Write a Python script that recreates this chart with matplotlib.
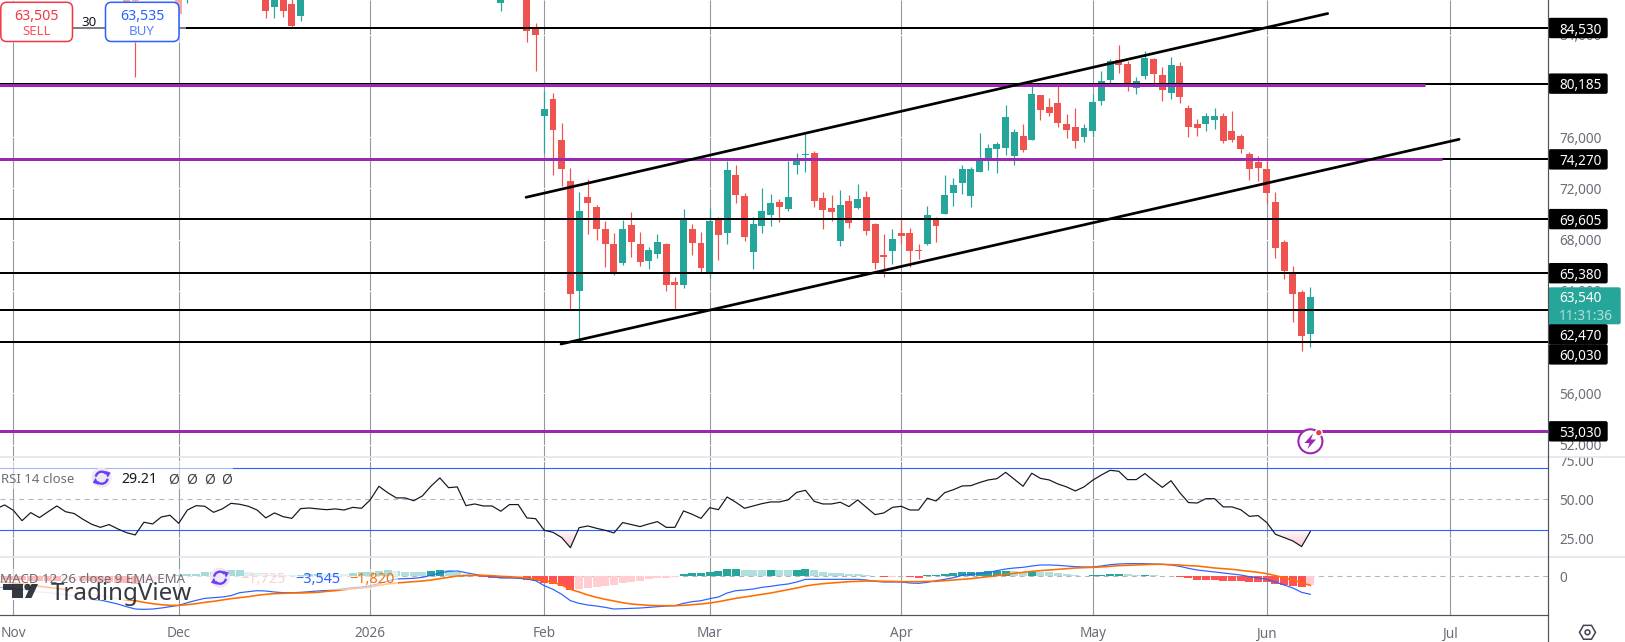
import numpy as np
import matplotlib
matplotlib.use("Agg")
import matplotlib.pyplot as plt
from matplotlib.patches import FancyBboxPatch, Circle, Rectangle, Polygon, Arc, RegularPolygon, PathPatch
from matplotlib.path import Path

plt.rcParams['font.family'] = ['Noto Sans', 'DejaVu Sans']

W, H = 1625, 642

# ---- price candles; bar 0 is the first session of February ----
bar_index = [-48, -47, -42, -41, -32, -31, -30, -29, -28, -5, -2, -1] + list(range(0, 89))
bar_open = [88000, 88000, 88500, 87500, 87500, 86195, 87500, 86406, 85468, 86510, 87000, 84530,
    77652, 78981, 75776, 72572, 63976, 71322, 70540, 68821, 67649, 66164, 69134, 67649, 66320, 66867, 67649,
    64679, 64445, 68821, 67727, 65409, 69603, 68509, 73041, 71400, 67024, 69056, 69915, 70931, 70384, 73823,
    74604, 74761, 71244, 70462, 67883, 71009, 70462, 71322, 69212, 66789, 67103, 68510, 68510, 67181, 67650,
    69708, 69994, 71636, 72417, 71401, 73277, 74371, 75074, 75152, 74527, 76090, 75777, 79294, 78356, 78669,
    77028, 76793, 76012, 76481, 78825, 80466, 82029, 81717, 79841, 80779, 82108, 80857, 79451, 81561, 78278,
    77028, 77028, 77340, 77653, 76481, 76090, 74683, 74058, 73511, 70932, 67806, 65357, 63899, 60616]
bar_high = [88500, 88500, 89000, 89000, 88000, 88100, 88000, 86900, 88000, 88200, 87600, 84897,
    79630, 79450, 77105, 73588, 71713, 72729, 70697, 69446, 68509, 69524, 70150, 68587, 67414, 68430, 67727,
    65070, 70384, 69212, 68587, 70462, 69759, 74135, 73823, 71635, 69759, 72025, 71556, 71166, 74135, 74761,
    76245, 74917, 71713, 71478, 71869, 71478, 72338, 71791, 69290, 68430, 68822, 69525, 68900, 67650, 70620,
    69760, 73042, 72808, 73824, 73667, 76325, 75465, 75621, 78513, 76637, 77028, 79998, 79294, 79060, 79998,
    77809, 78278, 77028, 79372, 81170, 82108, 83202, 81951, 80701, 82733, 82186, 81482, 82264, 81873, 78513,
    77419, 77888, 78278, 77888, 78044, 76246, 74840, 74527, 74136, 71714, 67962, 65931, 64055, 64289]
bar_low = [86300, 80724, 85500, 86510, 85335, 85335, 85413, 84608, 85100, 85859, 83436, 81169,
    74734, 73041, 72182, 62569, 60277, 68430, 67961, 65851, 65226, 66008, 66633, 65930, 65695, 66555, 63976,
    62569, 64210, 66789, 65383, 64992, 66398, 67649, 70853, 67883, 65695, 68509, 69056, 69368, 70228, 73119,
    73276, 70540, 68821, 69446, 67493, 68899, 70384, 68352, 65695, 65070, 66087, 67728, 65852, 66478, 67572,
    67806, 69994, 70620, 71557, 70541, 73277, 73433, 73199, 74605, 73824, 74840, 75777, 77340, 77653, 76793,
    75934, 75152, 75621, 76012, 78513, 80154, 81014, 79607, 79372, 80545, 80154, 78825, 78982, 78669, 76012,
    76090, 76481, 76637, 75543, 75621, 74762, 72651, 72573, 70776, 66556, 64915, 61554, 59288, 59600]
bar_close = [86570, 86620, 85624, 88800, 85859, 87800, 85859, 84686, 87700, 87800, 84319, 84006,
    78199, 76558, 73510, 63741, 70228, 70853, 68821, 67649, 65409, 68821, 67805, 66242, 67180, 67805, 64445,
    64445, 69603, 67727, 65773, 69446, 68352, 73432, 71478, 68196, 69212, 70228, 70853, 70540, 71322, 74187,
    74682, 71009, 70306, 70150, 70697, 69290, 71166, 68665, 66164, 66633, 68041, 68275, 67103, 67103, 69916,
    69057, 71479, 72261, 73511, 73511, 74136, 75152, 75465, 77575, 76403, 74996, 79372, 78122, 77888, 77106,
    76559, 75699, 76715, 78747, 80388, 81951, 81639, 80154, 80388, 82186, 80935, 79685, 81639, 79138, 76793,
    76715, 77653, 77653, 75699, 75777, 75074, 73511, 73589, 71636, 67337, 65540, 63742, 60460, 63540]

# ---- horizontal levels and channel lines ----
black_levels = [84530, 80185, 74270, 69605, 65380, 62470, 60030]
purple_levels = [80070, 74270, 53030]
purple_ends = [101.2, 103.1, 116]
channel_upper_bars = [-2.1, 90.0]
channel_upper_prices = [71308, 85662]
channel_lower_bars = [1.92, 105.1]
channel_lower_prices = [59850, 75838]

# ---- indicator series, one value per session from bar -63 ----
indicator_bars = list(range(-63, 89))
rsi_values = [43.8, 46.35, 42.9, 36.2, 41.4, 38.2, 42.0, 45.7, 42.0, 40.8, 37.1, 33.9, 31.9, 33.7, 30.9, 28.5, 27.0,
    35.2, 34.1, 38.6, 39.7, 34.5, 43.1, 45.9, 45.5, 41.6, 43.8, 47.4, 46.8, 45.5, 43.1, 38.0, 41.2, 38.8, 37.7,
    44.0, 44.4, 43.8, 43.3, 43.8, 43.1, 44.8, 44.2, 49.6, 58.4, 54.3, 50.9, 50.9, 49.1, 52.2, 58.6, 63.8, 57.5,
    58.0, 45.9, 47.0, 45.7, 45.7, 42.3, 46.6, 46.6, 38.0, 37.5, 30.0, 28.7, 25.3, 18.8, 31.7, 32.8, 31.3, 30.0,
    28.3, 35.0, 33.7, 32.4, 34.1, 35.6, 31.9, 31.9, 42.5, 40.3, 37.7, 44.6, 43.3, 51.5, 48.1, 44.2, 45.7, 47.2,
    48.3, 48.3, 49.6, 54.5, 55.8, 48.7, 47.0, 47.0, 48.1, 45.3, 49.6, 44.8, 40.1, 41.2, 44.8, 45.5, 43.1, 43.1,
    50.7, 48.9, 54.3, 56.2, 58.6, 58.8, 60.8, 62.5, 63.3, 67.4, 62.9, 58.4, 66.8, 63.5, 62.5, 59.9, 58.0, 55.4,
    58.0, 62.3, 65.7, 68.7, 68.1, 62.7, 62.7, 66.6, 62.0, 57.7, 62.0, 54.3, 47.9, 47.6, 50.4, 50.4, 45.1, 45.1,
    43.3, 39.0, 39.5, 35.0, 27.4, 25.3, 23.1, 19.5, 29.21]
macd_line = [-2132, -2261, -2455, -2649, -2907, -3101, -3230, -3424, -3618, -3876, -4199, -4522, -4651, -5039, -5426,
    -5943, -6395, -6460, -6395, -6202, -5943, -5685, -5168, -4716, -4328, -4199, -4070, -3811, -3230, -3036, -2842,
    -2907, -3101, -3230, -3230, -3165, -3036, -2907, -2778, -2649, -2455, -2261, -2132, -1873, -1486, -969, -581,
    -517, -452, -258, 129, 581, 904, 969, 646, 323, 65, -129, -388, -388, -452, -581, -904, -1873, -2584, -3553,
    -4780, -5297, -5620, -5814, -6072, -6395, -6331, -6266, -6202, -6072, -5943, -5814, -5749, -5297, -4974, -4780,
    -4393, -4070, -3295, -2842, -2713, -2519, -2196, -2003, -1744, -1550, -1163, -646, -646, -646, -646, -646, -646,
    -646, -775, -1034, -1163, -1163, -1163, -1357, -1421, -1227, -904, -646, -323, 129, 323, 452, 646, 1034, 1357,
    1550, 1680, 1938, 2132, 2132, 2067, 1938, 1809, 1744, 1744, 1938, 2196, 2326, 2390, 2390, 2390, 2326, 2261, 2132,
    1873, 1486, 1163, 969, 775, 581, 388, 194, -129, -388, -646, -1163, -1744, -2326, -3165, -3545]
macd_signal = [-969, -1163, -1357, -1550, -1809, -2003, -2196, -2390, -2649, -2907, -3165, -3488, -3811, -4134, -4393,
    -4587, -4780, -5103, -5362, -5556, -5685, -5685, -5556, -5362, -5103, -4910, -4651, -4393, -4199, -4005, -3747,
    -3553, -3424, -3359, -3295, -3295, -3230, -3165, -2972, -2842, -2649, -2455, -2326, -2132, -1809, -1550, -1357,
    -1227, -1098, -969, -775, -517, -258, 0, 65, 129, 129, 65, -65, -129, -258, -388, -581, -840, -1227, -1744, -2584,
    -3101, -3682, -4134, -4522, -4845, -5168, -5426, -5556, -5685, -5749, -5749, -5749, -5685, -5556, -5426, -5233,
    -4974, -4651, -4328, -4070, -3811, -3553, -3295, -2972, -2649, -2326, -1938, -1680, -1486, -1357, -1227, -1098,
    -1034, -969, -969, -1034, -1034, -1098, -1098, -1098, -1034, -1034, -904, -775, -646, -517, -323, -129, 65, 323,
    517, 711, 904, 1034, 1163, 1292, 1421, 1550, 1615, 1680, 1744, 1873, 2003, 2067, 2132, 2196, 2261, 2261, 2196, 2132,
    2003, 1938, 1744, 1550, 1421, 1292, 1098, 904, 711, 452, 65, -323, -775, -1292, -1820]
macd_hist = [-646, -711, -775, -840, -872, -904, -937, -969, -937, -904, -969, -1034, -1098, -1163, -1292, -1421, -1615,
    -1357, -1034, -646, -323, 129, 323, 388, 711, 840, 969, 1163, 1195, 840, 517, 258, 194, 129, 97, 129, 323, 388, 355,
    323, 291, 646, 711, 775, 969, 1163, 969, 775, 743, 736, 969, 1163, 1098, 775, 388, 194, -97, -388, -420, -425, -388,
    -775, -969, -1292, -1550, -1873, -2713, -2519, -2326, -2132, -1938, -1744, -1357, -1163, -969, -581, -388, -323, -97,
    388, 581, 614, 775, 969, 1357, 1389, 1163, 1156, 1130, 1163, 1130, 1098, 1163, 1357, 1163, 775, 581, 549, 388, 355,
    194, -65, -258, -194, -65, -258, -291, 97, 194, 388, 581, 775, 788, 808, 969, 1001, 1034, 969, 775, 840, 775, 743,
    581, 388, 194, 65, 194, 226, 388, 420, 388, 194, 226, 194, -65, -78, -194, -452, -711, -775, -808, -904, -937, -969,
    -1163, -1195, -1227, -1550, -1744, -1938, -2132, -1725]

# ---- scales and calendar ----
month_bars = [-61, -42, -20, 0, 19, 41, 63, 83, 104]
month_labels = ['Nov', 'Dec', '2026', 'Feb', 'Mar', 'Apr', 'May', 'Jun', 'Jul']
price_ticks = [84000, 80000, 76000, 72000, 68000, 64000, 60000, 56000, 52000]
rsi_ticks = [75, 50, 25]

UP, DOWN = '#26a69a', '#ef5350'
GRID = '#9598a1'
AXIS_TEXT = '#6a6d78'
AXIS_LINE = '#50535e'
BLUE, ORANGE, PURPLE = '#2962ff', '#ff6d00', '#9c27b0'
PX = 0.72  # one pixel in points at dpi=100

fig = plt.figure(figsize=(W / 100, H / 100), dpi=100, facecolor='white')
RIGHT, PANE1, PANE2, BOTTOM = 1548.3, 457.3, 557.3, 615.3


def pane(top, bottom):
    ax = fig.add_axes([0, (H - bottom) / H, RIGHT / W, (bottom - top) / H])
    ax.set_xlim(-62.53, 115.34)
    for s in ax.spines.values():
        s.set_visible(False)
    ax.yaxis.tick_right()
    ax.tick_params(axis='y', length=0, pad=7.7, labelsize=9.8, labelcolor=AXIS_TEXT)
    ax.tick_params(axis='x', length=0, bottom=False, labelbottom=False)
    ax.vlines(month_bars, 0, 1, transform=ax.get_xaxis_transform(), color=GRID, lw=1.1 * PX, zorder=1)
    return ax


# ---- main pane ----
ax = pane(0, PANE1)
ax.set_ylim(51002, 86717)
ax.set_yticks(price_ticks)
ax.set_yticklabels([f'{v:,}' for v in price_ticks])
for v in price_ticks:
    ax.axhline(v, color='white', lw=PX, zorder=1.5)

bx = np.array(bar_index, dtype=float)
bo, bh, bl, bc = map(np.array, (bar_open, bar_high, bar_low, bar_close))
colors = [UP if c >= o else DOWN for o, c in zip(bo, bc)]
ax.vlines(bx, bl, bh, colors=colors, lw=1.2 * PX, zorder=2)
ax.bar(bx, np.abs(bc - bo), bottom=np.minimum(bo, bc), width=0.8, color=colors, linewidth=0, zorder=2.1)

for lvl in black_levels:
    ax.axhline(lvl, color='black', lw=2 * PX, zorder=3)
for lvl, end in zip(purple_levels, purple_ends):
    ax.hlines(lvl, -70, end, color=PURPLE, lw=3 * PX, zorder=3.1)
ax.plot(channel_upper_bars, channel_upper_prices, color='black', lw=2.7 * PX, zorder=3.2, solid_capstyle='round')
ax.plot(channel_lower_bars, channel_lower_prices, color='black', lw=2.7 * PX, zorder=3.2, solid_capstyle='round')

ix = np.array(indicator_bars, dtype=float)

# ---- RSI pane ----
rx = pane(PANE1, PANE2)
rx.set_ylim(12.58, 77.1)
rx.set_yticks(rsi_ticks)
rx.set_yticklabels([f'{v:.2f}' for v in rsi_ticks])
for v in rsi_ticks:
    rx.axhline(v, color='white', lw=PX, zorder=1.5)
rsi = np.array(rsi_values)
rx.axhline(70, color=BLUE, lw=1.1 * PX, zorder=2)
rx.axhline(30, color=BLUE, lw=1.1 * PX, zorder=2)
rx.axhline(50, color='#b2b5be', lw=1.1 * PX, dashes=(4.5, 4), zorder=2)

# oversold shading: fades out towards the 30 line
shade = rx.fill_between(ix, rsi, 30, where=rsi < 30, interpolate=True, facecolor='none', edgecolor='none')
clip = PathPatch(Path.make_compound_path(*shade.get_paths()), transform=rx.transData, fc='none', ec='none')
rx.add_patch(clip)
grad = np.zeros((64, 1, 4))
grad[..., 0], grad[..., 1], grad[..., 2] = 0.95, 0.45, 0.5
grad[..., 3] = np.linspace(0.45, 0.0, 64)[:, None]
im = rx.imshow(grad, extent=(-70, 120, 17, 30), origin='lower', aspect='auto', zorder=2.5)
im.set_clip_path(clip)
rx.set_xlim(-62.53, 115.34)
rx.set_ylim(12.58, 77.1)
rx.plot(ix, rsi, color='#131722', lw=1.2 * PX, zorder=3)

# ---- MACD pane ----
mx = pane(PANE2, BOTTOM)
mx.set_ylim(-7612, 3622)
mx.set_yticks([0])
mx.set_yticklabels(['0'])
mx.axhline(0, color='#b2b5be', lw=1.1 * PX, dashes=(4.5, 4), zorder=1.5)
hist = np.array(macd_hist)
prev = np.r_[hist[0], hist[:-1]]
hist_colors = ['#26a69a' if h >= 0 and h > p else '#b2dfdb' if h >= 0 else '#ffcdd2' if h > p else '#ff5252'
               for h, p in zip(hist, prev)]
mx.bar(ix, hist, width=0.92, color=hist_colors, linewidth=0, zorder=2)
mx.plot(ix, macd_line, color=BLUE, lw=1.2 * PX, zorder=3)
mx.plot(ix, macd_signal, color=ORANGE, lw=1.6 * PX, zorder=3.1)
mx.set_xticks(month_bars)
mx.set_xticklabels(month_labels)
mx.tick_params(axis='x', labelbottom=True, pad=8, labelsize=9.8, labelcolor=AXIS_TEXT)
mx.get_xticklabels()[2].set_fontweight('bold')

# ---- overlay drawn in pixel coordinates ----
ov = fig.add_axes([0, 0, 1, 1], facecolor='none', zorder=10)
ov.set_xlim(0, W)
ov.set_ylim(H, 0)
ov.axis('off')


def price_y(value):
    return H - ax.transData.transform((0, value))[1]


def box(x0, y0, x1, y1, fc, ec='none', r=2.0, lw=0.0, z=5):
    ov.add_patch(FancyBboxPatch((x0, y0), x1 - x0, y1 - y0, boxstyle=f'round,pad=0,rounding_size={r}',
                                fc=fc, ec=ec, lw=lw, zorder=z))


def label(x, y, s, color, size=9.8, ha='left', weight='normal', z=7, **kw):
    ov.text(x, y, s, color=color, fontsize=size, ha=ha, va='center_baseline', fontweight=weight, zorder=z, **kw)


def refresh_icon(x, y):
    ov.add_patch(Circle((x, y), 10, fc='#ede7f6', ec='none', zorder=6))
    ov.add_patch(Arc((x, y), 12, 12, theta1=190, theta2=320, color='#6e3ff2', lw=1.7, zorder=7))
    ov.add_patch(Arc((x, y), 12, 12, theta1=10, theta2=140, color='#6e3ff2', lw=1.7, zorder=7))
    ov.add_patch(Polygon([(x + 3, y - 7), (x + 9, y - 5), (x + 6, y)], fc='#6e3ff2', ec='none', zorder=7))
    ov.add_patch(Polygon([(x - 3, y + 7), (x - 9, y + 5), (x - 6, y)], fc='#6e3ff2', ec='none', zorder=7))


# faded backing behind the order buttons and legends
ov.add_patch(Rectangle((0, 0), 186, 43, fc='white', alpha=0.5, ec='none', zorder=1))
ov.add_patch(Rectangle((0, 462), 232.5, 27, fc='white', alpha=0.55, ec='none', zorder=1))
ov.add_patch(Rectangle((0, 569), 398, 21, fc='white', alpha=0.6, ec='none', zorder=1))
ov.add_patch(Rectangle((0, 590), 136, 10, fc='white', alpha=0.9, ec='none', zorder=1))

# order buttons
box(0.8, 2.3, 72.5, 41.5, 'white', '#f23645', r=6, lw=1.1)
box(105.5, 2.3, 179, 41.5, 'white', BLUE, r=6, lw=1.1)
label(36.5, 14.3, '63,505', '#f23645', size=10.2, ha='center', weight='bold')
label(36.5, 30, 'SELL', '#f7525f', size=9.6, ha='center')
label(142, 14.3, '63,535', BLUE, size=10.2, ha='center', weight='bold')
label(142, 30, 'BUY', '#5b84ff', size=9.6, ha='center')
label(89, 21.5, '30', '#131722', size=9.6, ha='center')

# pane separators and axis frame
for y in (PANE1, PANE2):
    ov.plot([0, W], [y, y], color='#e0e3eb', lw=1.5 * PX, zorder=2)
ov.add_patch(Rectangle((1549, 450), 76, 6.6, fc='white', ec='none', zorder=1.5))
ov.plot([0, RIGHT], [BOTTOM, BOTTOM], color=AXIS_LINE, lw=1.2 * PX, zorder=2)

# price tags on the right scale
tag_rows = [(84530, None), (80185, None), (74270, None), (69605, None), (65380, None),
            (62470, 334.2), (60030, 354.4), (53030, None)]
for value, forced in tag_rows:
    yc = price_y(value) if forced is None else forced
    box(1548.5, yc - 10.2, 1607.7, yc + 10.2, 'black')
    label(1559, yc, f'{value:,}', 'white', weight='medium')
box(1548.5, 287.3, 1620.7, 324.3, UP)
label(1559, 297, f'{bar_close[-1]:,}', 'white', weight='medium')
label(1559, 314.3, '11:31:36', '#b2dfdb', weight='medium')
ov.plot([RIGHT, RIGHT], [0, H], color=AXIS_LINE, lw=1.2 * PX, zorder=8)

# legends
label(1, 477.7, 'RSI 14 close', AXIS_TEXT, size=9.5)
refresh_icon(101.7, 477.7)
label(121, 477.7, f'{rsi_values[-1]:.2f}', '#131722', size=10.2, weight='medium')
for xp in (168, 186, 204, 221):
    label(xp, 477.7, 'Ø', '#40434e', size=10)
label(0, 577.7, 'MACD 12 26 close 9 EMA EMA', AXIS_TEXT, size=9.55, z=6.5)
refresh_icon(220, 577.7)
label(240.7, 577.7, f'−{abs(macd_hist[-1]):,}', '#ffcdd2', size=10.4)
label(295, 577.7, f'−{abs(macd_line[-1]):,}', BLUE, size=10.4)
label(349, 577.7, f'−{abs(macd_signal[-1]):,}', ORANGE, size=10.4)

# watermark
mark = '#131722'
ov.add_patch(Polygon([(3, 584), (23, 584), (23, 598), (12, 598), (12, 590), (3, 590)], fc=mark, ec='none', alpha=0.85, zorder=6))
ov.add_patch(Circle((27.5, 587), 3.2, fc=mark, ec='none', alpha=0.85, zorder=6))
ov.add_patch(Polygon([(31.5, 584), (38, 584), (31.5, 598), (25, 598)], fc=mark, ec='none', alpha=0.85, zorder=6))
label(51, 591.5, 'TradingView', mark, size=17.4, weight='semibold', alpha=0.85, z=6)

# alert marker on the 53,030 level
ov.add_patch(Circle((1310.4, 441.3), 12, fc='white', ec=PURPLE, lw=1.5, zorder=6))
ov.add_patch(Polygon([(1313, 433.5), (1304.5, 443), (1309.5, 443), (1307.5, 449), (1316, 439.5), (1311, 439.5)],
                     fc=PURPLE, ec='none', zorder=7))
ov.add_patch(Circle((1318.8, 432.7), 3.3, fc='#f23645', ec='white', lw=1, zorder=8))

# settings glyph in the corner
ov.add_patch(RegularPolygon((1587.5, 632.3), 6, radius=8, orientation=np.pi / 2, fc='none', ec='#40434e', lw=1.1, zorder=6))
ov.add_patch(Circle((1587.5, 632.3), 2.4, fc='none', ec='#40434e', lw=1.1, zorder=6))

fig.savefig('out.png', dpi=100, facecolor='white')
